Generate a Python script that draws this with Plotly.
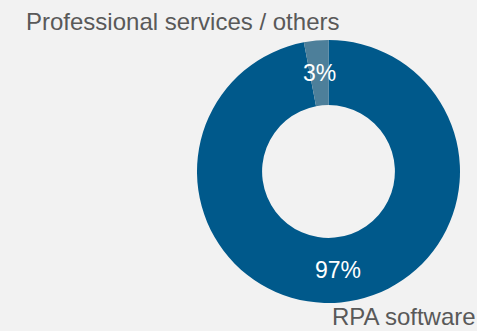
import math
import plotly.graph_objects as go

labels = ["RPA software", "Professional services / others"]
values = [97, 3]
colors = ["#00598b", "#4d7f9a"]

W, H = 477, 331
cx, cy, R = 328.5, 171.5, 131.5
hole = 0.505

fig = go.Figure(go.Pie(
    labels=labels, values=values, hole=hole, sort=False,
    direction="clockwise", rotation=0,
    marker=dict(colors=colors, line=dict(width=0)),
    textinfo="none", hoverinfo="label+percent", showlegend=False,
    domain=dict(x=[(cx - R) / W, (cx + R) / W],
                y=[(H - cy - R) / H, (H - cy + R) / H]),
))

annotations = []
total = sum(values)
cum = 0
rmid = R * (1 + hole) / 2
for lab, v in zip(labels, values):
    mid = (cum + v / 2) / total * 2 * math.pi
    cum += v
    px = cx + rmid * math.sin(mid)
    py = cy - rmid * math.cos(mid)
    annotations.append(dict(
        x=px / W, y=1 - py / H, xref="paper", yref="paper",
        text=f"{round(v / total * 100)}%", showarrow=False,
        font=dict(family="Liberation Sans, Arial", size=23, color="white"),
        xanchor="center", yanchor="middle"))

annotations.append(dict(
    x=25 / W, y=1 - 21 / H, xref="paper", yref="paper", text=labels[1],
    showarrow=False, xanchor="left", yanchor="middle", borderpad=0,
    font=dict(family="Liberation Sans, Arial", size=24, color="#595959")))
annotations.append(dict(
    x=1.0, y=0.0, xref="paper", yref="paper", text=labels[0],
    showarrow=False, xanchor="right", yanchor="bottom", borderpad=0,
    font=dict(family="Liberation Sans, Arial", size=24, color="#595959")))

fig.update_layout(
    width=W, height=H, margin=dict(l=0, r=0, t=0, b=0),
    paper_bgcolor="#f2f2f2", plot_bgcolor="#f2f2f2",
    annotations=annotations,
)

fig.write_html("out.html")
